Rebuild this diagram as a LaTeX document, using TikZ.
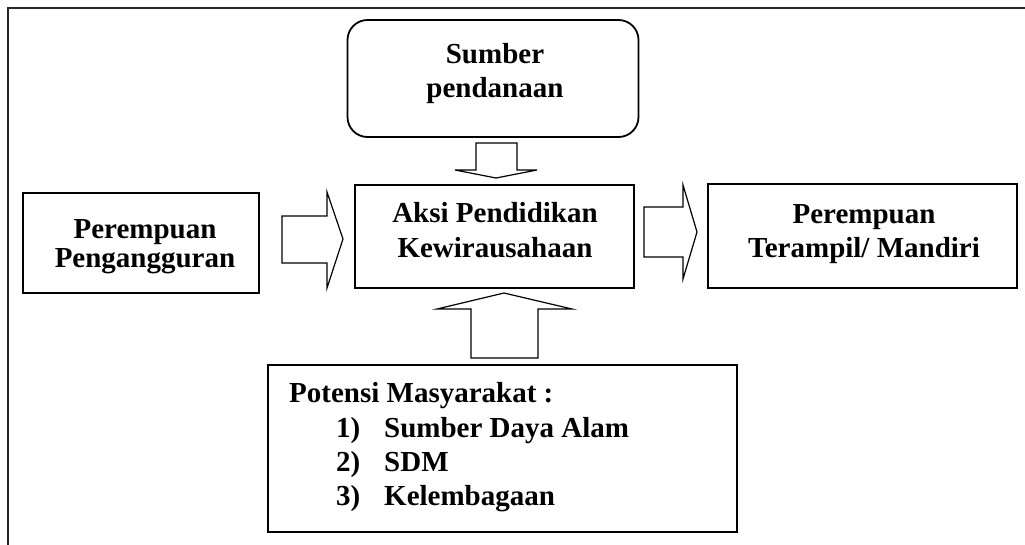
\documentclass[tikz,border=0pt]{standalone}
\usepackage{fontspec}
\setmainfont{Liberation Serif}
\begin{document}
\begin{tikzpicture}[x=1pt,y=-1pt,
  box/.style={draw, line width=1.8pt, inner sep=0pt},
  roundbox/.style={box, rounded corners=20pt},
  blockarrow/.style={draw, line width=1.2pt, line join=miter},
  lbl/.style={font=\bfseries\fontsize{29}{34}\selectfont, inner sep=0pt, anchor=base},
  lblw/.style={lbl, anchor=base west},
  frame/.style={draw=black!85, line width=1.5pt}
]
\useasboundingbox (0,0) rectangle (1025,544);
% outer frame (cut off at right and bottom)
\draw[frame] (8,546) -- (8,8) -- (1027,8);

% boxes
\node[roundbox, minimum width=291pt, minimum height=117pt] (sumber) at (493,78.5) {};
\node[box, minimum width=236pt, minimum height=100pt] (pengangguran) at (141,243) {};
\node[box, minimum width=279pt, minimum height=103pt] (aksi) at (494.5,236.5) {};
\node[box, minimum width=309pt, minimum height=104pt] (mandiri) at (862.5,236) {};
\node[box, minimum width=469pt, minimum height=167pt] (potensi) at (502.5,448.5) {};

% texts
\node[lbl] (sumberA) at (495,63) {Sumber};
\node[lbl] (sumberB) at (495,97) {pendanaan};
\node[lbl] (pengA) at (145,238) {Perempuan};
\node[lbl] (pengB) at (145,267) {Pengangguran};
\node[lbl] (aksiA) at (495,222) {Aksi Pendidikan};
\node[lbl] (aksiB) at (495,257) {Kewirausahaan};
\node[lbl] (mandA) at (864,223) {Perempuan};
\node[lbl] (mandB) at (864,257) {Terampil/ Mandiri};
\node[lblw] (potA) at (289,402) {Potensi Masyarakat :};
\node[lblw] (pot1n) at (336,437) {1)};
\node[lblw] (pot1) at (384,437) {Sumber Daya Alam};
\node[lblw] (pot2n) at (336,471) {2)};
\node[lblw] (pot2) at (384,471) {SDM};
\node[lblw] (pot3n) at (336,505) {3)};
\node[lblw] (pot3) at (384,505) {Kelembagaan};

% block arrows
\draw[blockarrow] (476,143) -- (517,143) -- (517,170) -- (537,170) -- (496,178)
  -- (455,170) -- (476,170) -- cycle;
\draw[blockarrow] (282,216) -- (327,216) -- (327,192) -- (343,239) -- (327,288)
  -- (327,263) -- (282,263) -- cycle;
\draw[blockarrow] (644,207) -- (683,207) -- (683,185) -- (697,232) -- (683,279)
  -- (683,257) -- (644,257) -- cycle;
\draw[blockarrow] (471,358) -- (538,358) -- (538,309) -- (572,309) -- (504,293)
  -- (437,309) -- (471,309) -- cycle;
\end{tikzpicture}
\end{document}
